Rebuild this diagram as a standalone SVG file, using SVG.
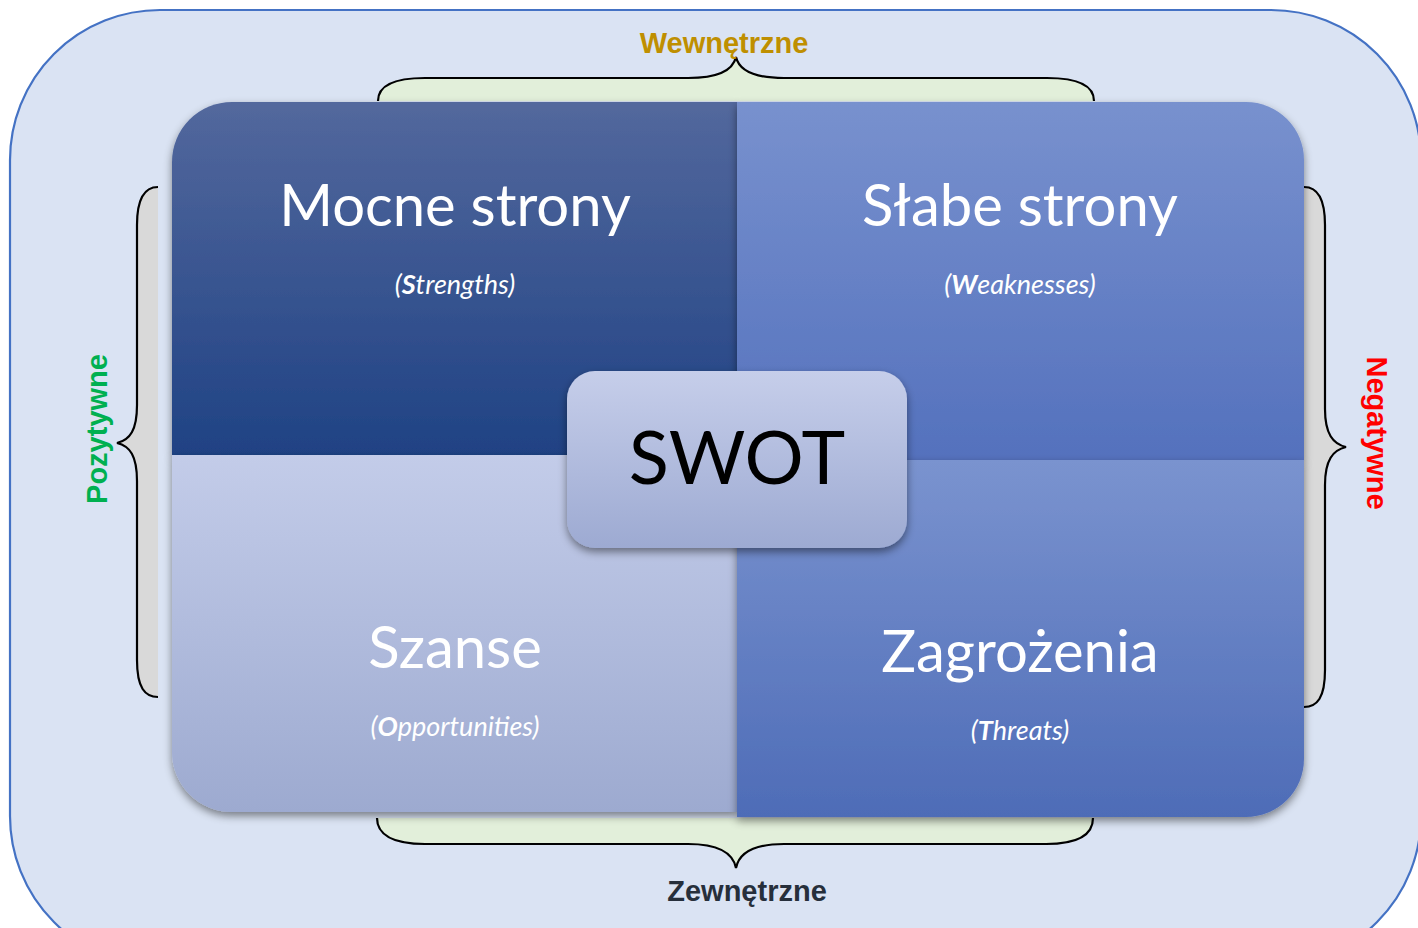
<svg xmlns="http://www.w3.org/2000/svg" width="1418" height="928" viewBox="0 0 1418 928">
<defs>
<linearGradient id="gTL" x1="0" y1="0" x2="0" y2="1"><stop offset="0" stop-color="#53689D"/><stop offset="1" stop-color="#1F4284"/></linearGradient>
<linearGradient id="gTR" x1="0" y1="0" x2="0" y2="1"><stop offset="0" stop-color="#7891CE"/><stop offset="1" stop-color="#5471BD"/></linearGradient>
<linearGradient id="gBL" x1="0" y1="0" x2="0" y2="1"><stop offset="0" stop-color="#C3CCE9"/><stop offset="1" stop-color="#9DAAD0"/></linearGradient>
<linearGradient id="gBR" x1="0" y1="0" x2="0" y2="1"><stop offset="0" stop-color="#7A93CF"/><stop offset="1" stop-color="#4E6CB7"/></linearGradient>
<linearGradient id="gC" x1="0" y1="0" x2="0" y2="1"><stop offset="0" stop-color="#C6CEEA"/><stop offset="1" stop-color="#9DAAD2"/></linearGradient>
<filter id="sh" x="-10%" y="-10%" width="120%" height="125%"><feDropShadow dx="0" dy="4" stdDeviation="4" flood-color="#000" flood-opacity="0.45"/></filter>
</defs>
<style>
.brace{stroke:#000;stroke-width:2.2;fill:none}
.title{font-family:Lato,"Liberation Sans",sans-serif;font-size:58px;fill:#fff;text-anchor:middle}
.sub{font-family:Lato,"Liberation Sans",sans-serif;font-size:27px;font-style:italic;fill:#fff;text-anchor:middle}
.lab{font-family:"Liberation Sans",Arial,sans-serif;font-size:29px;font-weight:bold;text-anchor:middle}
</style>
<g id="background">
<rect x="10" y="10" width="1411" height="956" rx="150" ry="150" fill="#DAE3F3" stroke="#4472C4" stroke-width="2.2"/>
</g>
<g id="braces">
<path d="M378,101 C378,86 392,78 425,78 L688,78 C718,78 733,70 736,57 C739,70 754,78 784,78 L1047,78 C1080,78 1094,86 1094,101 Z" fill="#E2EFDA"/>
<path class="brace" d="M378,101 C378,86 392,78 425,78 L688,78 C718,78 733,70 736,57 C739,70 754,78 784,78 L1047,78 C1080,78 1094,86 1094,101"/>
<path d="M377,818 C377,834 392,844 425,844 L688,844 C718,844 733,853 736,868 C739,853 754,844 784,844 L1046,844 C1079,844 1093,834 1093,818 Z" fill="#E2EFDA"/>
<path class="brace" d="M377,818 C377,834 392,844 425,844 L688,844 C718,844 733,853 736,868 C739,853 754,844 784,844 L1046,844 C1079,844 1093,834 1093,818"/>
<path d="M158,187 C145,187 137,197 137,225 L137,405 C137,430 130,440 117,443 C130,446 137,456 137,481 L137,660 C137,688 145,697 158,697 Z" fill="#D9D9D9"/>
<path class="brace" d="M158,187 C145,187 137,197 137,225 L137,405 C137,430 130,440 117,443 C130,446 137,456 137,481 L137,660 C137,688 145,697 158,697"/>
<path d="M1304,187 C1317,187 1325,197 1325,225 L1325,409 C1325,434 1333,444 1346,447 C1333,450 1325,460 1325,485 L1325,670 C1325,698 1317,707 1304,707 Z" fill="#D9D9D9"/>
<path class="brace" d="M1304,187 C1317,187 1325,197 1325,225 L1325,409 C1325,434 1333,444 1346,447 C1333,450 1325,460 1325,485 L1325,670 C1325,698 1317,707 1304,707"/>
</g>
<g id="labels">
<text class="lab" x="724" y="53" fill="#BF8F00">Wewnętrzne</text>
<text class="lab" x="747" y="901" fill="#262F3B">Zewnętrzne</text>
<text class="lab" x="0" y="0" fill="#00B050" transform="translate(107,429) rotate(-90)">Pozytywne</text>
<text class="lab" x="0" y="0" fill="#FF0000" transform="translate(1367,433) rotate(90)">Negatywne</text>
</g>
<g id="strengths">
<path d="M232,102 L737,102 L737,455 L172,455 L172,162 A60,60 0 0 1 232,102 Z" fill="url(#gTL)" filter="url(#sh)"/>
<text class="title" x="455" y="226">Mocne strony</text>
<text class="sub" x="455" y="294">(<tspan font-weight="bold">S</tspan>trengths)</text>
</g>
<g id="weaknesses">
<path d="M737,102 L1246,102 A58,58 0 0 1 1304,160 L1304,460 L737,460 Z" fill="url(#gTR)" filter="url(#sh)"/>
<text class="title" x="1020" y="226">Słabe strony</text>
<text class="sub" x="1020" y="294">(<tspan font-weight="bold">W</tspan>eaknesses)</text>
</g>
<g id="opportunities">
<path d="M172,455 L737,455 L737,812 L232,812 A60,60 0 0 1 172,752 Z" fill="url(#gBL)" filter="url(#sh)"/>
<text class="title" x="455" y="668">Szanse</text>
<text class="sub" x="455" y="736">(<tspan font-weight="bold">O</tspan>pportunities)</text>
</g>
<g id="threats">
<path d="M737,460 L1304,460 L1304,759 A58,58 0 0 1 1246,817 L737,817 Z" fill="url(#gBR)" filter="url(#sh)"/>
<text class="title" x="1020" y="672">Zagrożenia</text>
<text class="sub" x="1020" y="740">(<tspan font-weight="bold">T</tspan>hreats)</text>
</g>
<g id="swot">
<rect x="567" y="371" width="340" height="177" rx="28" ry="28" fill="url(#gC)" filter="url(#sh)"/>
<text x="737" y="484" font-family="Lato,'Liberation Sans',sans-serif" font-size="74" fill="#000" text-anchor="middle">SWOT</text>
</g>
</svg>
